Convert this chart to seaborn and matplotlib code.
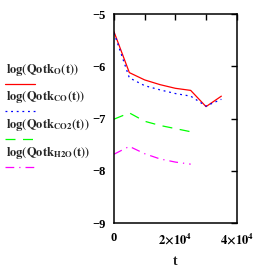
import matplotlib
matplotlib.use("Agg")
import matplotlib.pyplot as plt
from matplotlib.lines import Line2D
import seaborn as sns
import numpy as np

# data
t_O = [0, 5000, 10000, 15000, 20000, 25000, 30000, 35000]
y_O = [-5.34, -6.12, -6.26, -6.35, -6.42, -6.46, -6.77, -6.57]

t_CO = [0, 5000, 10000, 15000, 20000, 25000, 30000, 35000]
y_CO = [-5.36, -6.22, -6.37, -6.45, -6.52, -6.57, -6.76, -6.63]

t_CO2 = [0, 5000, 10000, 15000, 20000, 25000]
y_CO2 = [-7.01, -6.89, -7.05, -7.13, -7.19, -7.25]

t_H2O = [0, 5000, 10000, 15000, 20000, 25000]
y_H2O = [-7.68, -7.53, -7.67, -7.77, -7.83, -7.87]

x_ticks = [0, 10000, 20000, 30000, 40000]
x_ticklabels = ["0", "", r"$\mathbf{2{\times}10^{4}}$", "", r"$\mathbf{4{\times}10^{4}}$"]
y_ticks = [-9, -8, -7, -6, -5]
y_ticklabels = ["\u22129", "\u22128", "\u22127", "\u22126", "\u22125"]

legend_labels = [
    r"$\mathbf{log}\left(\mathbf{Qotk}_{\mathbf{O}}\mathbf{(t)}\right)$",
    r"$\mathbf{log}\left(\mathbf{Qotk}_{\mathbf{CO}}\mathbf{(t)}\right)$",
    r"$\mathbf{log}\left(\mathbf{Qotk}_{\mathbf{CO2}}\mathbf{(t)}\right)$",
    r"$\mathbf{log}\left(\mathbf{Qotk}_{\mathbf{H2O}}\mathbf{(t)}\right)$",
]

sns.set_style("white")
plt.rcParams['font.family'] = ['Liberation Serif', 'DejaVu Serif']
plt.rcParams['mathtext.fontset'] = 'stix'
plt.rcParams['font.weight'] = 'bold'

fig = plt.figure(figsize=(2.67, 2.69), dpi=100)
ax = fig.add_axes([114/267, 1-223.3/269, (236.7-114)/267, (223.3-14)/269])

colors = ["#ff0000", "#0000ff", "#00ff00", "#ff00ff"]
styles = ["-", (0, (1.5, 3)), (0, (8, 6)), (0, (7, 4, 1, 4))]
series = [(t_O, y_O), (t_CO, y_CO), (t_CO2, y_CO2), (t_H2O, y_H2O)]
for (tx, ty), c, ls in zip(series, colors, styles):
    sns.lineplot(x=tx, y=ty, ax=ax, color=c, linestyle=ls, linewidth=0.9, sort=False)

ax.set_xlim(0, 40000)
ax.set_ylim(-9, -5)
ax.set_xticks(x_ticks)
ax.set_xticklabels(x_ticklabels)
ax.set_yticks(y_ticks)
ax.set_yticklabels(y_ticklabels)
ax.tick_params(direction='in', length=4, width=1, top=True, right=True,
               labelsize=9, pad=6, colors='black')
for lab in ax.get_xticklabels() + ax.get_yticklabels():
    lab.set_fontweight('bold')
for s in ax.spines.values():
    s.set_linewidth(1.1)
    s.set_color('black')
ax.set_xlabel("t", fontsize=10, fontweight='bold', labelpad=6)
ax.set_ylabel("")

# legend drawn at left
text_y = [70, 97, 125, 153]
line_y = [84, 111, 139, 167]
for lab, ty, ly, c, ls in zip(legend_labels, text_y, line_y, colors, styles):
    fig.text(6/267, 1-ty/269, lab, fontsize=9, va='center', ha='left')
    fig.add_artist(Line2D([5/267, 35/267], [1-ly/269, 1-ly/269], color=c,
                          linestyle=ls, linewidth=0.9, transform=fig.transFigure))

fig.savefig("out.png", dpi=100)
